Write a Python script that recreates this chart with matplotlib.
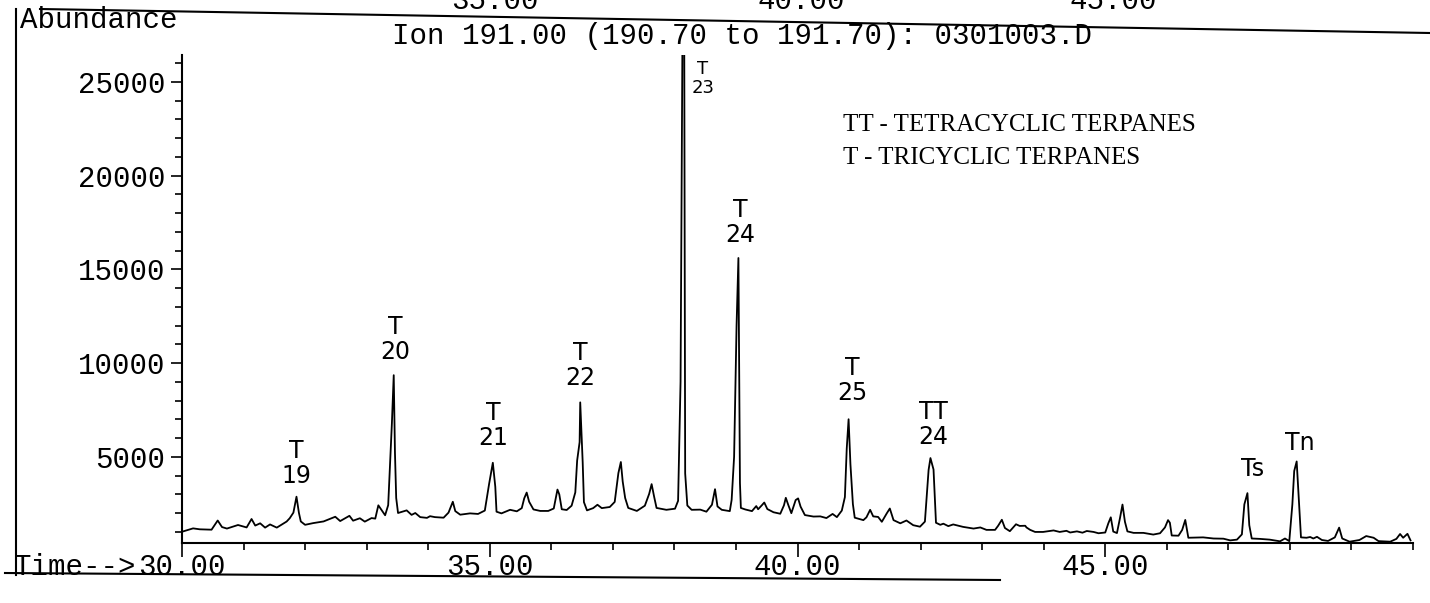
import matplotlib
matplotlib.use("Agg")
import matplotlib.pyplot as plt
from matplotlib.lines import Line2D
from matplotlib.ticker import FixedLocator, MultipleLocator, FormatStrFormatter

# trace: retention time (min) and abundance
time_min = [
    30.00, 30.18, 30.29, 30.48, 30.58, 30.65, 30.73, 30.91, 31.05, 31.13,
    31.19, 31.27, 31.35, 31.43, 31.54, 31.70, 31.75, 31.81, 31.86, 31.90,
    31.93, 32.00, 32.13, 32.30, 32.49, 32.57, 32.72, 32.78, 32.89, 32.97,
    33.08, 33.14, 33.19, 33.30, 33.35, 33.41, 33.44, 33.46, 33.48, 33.51,
    33.65, 33.73, 33.79, 33.87, 33.98,
    34.03, 34.11, 34.25, 34.33, 34.40, 34.44, 34.52, 34.68, 34.81, 34.92,
    34.99, 35.05, 35.09, 35.11, 35.19, 35.33, 35.44, 35.52, 35.56, 35.60,
    35.64, 35.71, 35.82, 35.95, 36.04, 36.10, 36.13, 36.17, 36.25, 36.33,
    36.39, 36.42, 36.46, 36.47, 36.51, 36.53, 36.58, 36.68, 36.75, 36.82,
    36.95, 37.03, 37.09, 37.13, 37.16, 37.20, 37.25, 37.39, 37.52, 37.59,
    37.63, 37.67, 37.71, 37.87, 38.01, 38.06, 38.10, 38.13, 38.16, 38.175,
    38.21, 38.28, 38.42, 38.52, 38.61, 38.66, 38.70, 38.77, 38.90, 38.93,
    38.97, 39.01, 39.04, 39.065, 39.08, 39.15, 39.26, 39.33, 39.36, 39.42,
    39.46, 39.51, 39.61, 39.72, 39.78, 39.81, 39.85, 39.90, 39.97, 40.01,
    40.05, 40.12, 40.26, 40.37, 40.47, 40.57, 40.64, 40.72, 40.77, 40.80,
    40.83, 40.86, 40.90, 40.93, 41.07, 41.12, 41.18, 41.23, 41.31, 41.37,
    41.45, 41.50, 41.56, 41.67, 41.77, 41.88, 41.99, 42.07, 42.13, 42.16,
    42.21, 42.25, 42.32, 42.37, 42.45, 42.53, 42.69, 42.86, 42.97, 43.07,
    43.21, 43.26, 43.32, 43.37, 43.45, 43.55, 43.61, 43.70, 43.72, 43.78,
    43.86, 43.99, 44.16, 44.26, 44.37, 44.43, 44.54, 44.63, 44.70, 44.81,
    44.89, 45.00, 45.05, 45.09, 45.13, 45.19, 45.24, 45.28, 45.32, 45.36,
    45.46, 45.62, 45.78, 45.89, 45.97, 46.02, 46.05, 46.08, 46.19, 46.25,
    46.30, 46.35, 46.49, 46.59, 46.76, 46.92, 47.03, 47.14, 47.22, 47.26,
    47.31, 47.34, 47.38, 47.51, 47.67, 47.84, 47.92, 47.99, 48.04, 48.07,
    48.11, 48.14, 48.18, 48.27, 48.33, 48.38, 48.44, 48.52, 48.62, 48.73,
    48.80, 48.85, 48.97, 49.13, 49.24, 49.36, 49.44, 49.63, 49.73, 49.79,
    49.84, 49.91, 49.96,
]
abundance = [
    1000, 1180, 1130, 1110, 1600, 1250, 1170, 1360, 1230, 1680,
    1330, 1450, 1220, 1390, 1220, 1545, 1720, 2020, 2870, 2000,
    1550, 1370, 1460, 1550, 1800, 1570, 1850, 1590, 1720, 1540,
    1730, 1700, 2410, 1880, 2420, 6780, 9350, 5200, 2800, 2000,
    2140, 1900, 2000, 1780, 1740,
    1830, 1780, 1750, 2020, 2600, 2100, 1910, 1980, 1950, 2130,
    3560, 4680, 3400, 2070, 1980, 2170, 2090, 2260, 2780, 3090,
    2600, 2190, 2110, 2110, 2240, 3250, 2990, 2200, 2160, 2390,
    3100, 4800, 5780, 7900, 4700, 2580, 2140, 2260, 2440, 2260,
    2320, 2590, 4130, 4720, 3680, 2800, 2270, 2110, 2390, 3020,
    3540, 2880, 2270, 2170, 2230, 2650, 9000, 27000, 27000, 4110,
    2400, 2170, 2180, 2070, 2440, 3270, 2350, 2170, 2100, 2700,
    5000, 12000, 15600, 3600, 2270, 2190, 2100, 2370, 2200, 2410,
    2560, 2210, 2040, 1960, 2410, 2810, 2430, 1990, 2690, 2780,
    2340, 1890, 1810, 1820, 1730, 1950, 1780, 2130, 2850, 5440,
    7000, 4600, 2470, 1750, 1620, 1770, 2170, 1820, 1790, 1530,
    1980, 2240, 1620, 1450, 1600, 1350, 1270, 1540, 4300, 4930,
    4320, 1480, 1370, 1430, 1300, 1390, 1260, 1170, 1230, 1100,
    1100, 1320, 1640, 1200, 1030, 1400, 1310, 1320, 1230, 1100,
    990, 990, 1070, 990, 1050, 960, 1020, 950, 1040, 990,
    920, 960, 1450, 1770, 1010, 930, 1740, 2450, 1530, 1020,
    940, 940, 850, 920, 1230, 1620, 1480, 800, 790, 1100,
    1630, 680, 690, 700, 640, 630, 540, 580, 860, 2460,
    3060, 1350, 640, 620, 580, 490, 640, 500, 2460, 4240,
    4750, 3020, 700, 680, 720, 640, 730, 560, 510, 700,
    1220, 640, 470, 560, 770, 680, 500, 470, 620, 880,
    680, 890, 540,
]

peak_labels = ["T\n19", "T\n20", "T\n21", "T\n22", "T\n23", "T\n24", "T\n25", "TT\n24", "Ts", "Tn"]
peak_times = [31.86, 33.44, 35.05, 36.47, 38.14, 39.04, 40.83, 42.16, 47.31, 48.11]

x_major = [30, 35, 40, 45]
top_chart_ticks = ["35.00", "40.00", "45.00"]
legend_lines = ["TT - TETRACYCLIC TERPANES", "T - TRICYCLIC TERPANES"]
title = "Ion 191.00 (190.70 to 191.70): 0301003.D"

W, H = 1430, 603
MONO = "Liberation Mono"
Y_MIN, Y_MAX = 400, 26427

# label placement relative to the peak top, in pixels (dx, dy up)
label_offsets = [(0, 9), (2, 11), (0, 13), (0, 12), (20, -42), (2, 11), (4, 14), (3, 9), (5, 12), (3, 6)]


def fx(x: float) -> float:
    return x / W


def fy(y: float) -> float:
    return 1 - y / H


def peak_top(t: float) -> float:
    near = [a for tm, a in zip(time_min, abundance) if abs(tm - t) <= 0.06]
    return min(max(near), Y_MAX)


fig = plt.figure(figsize=(W / 100, H / 100), dpi=100)
ax = fig.add_axes([fx(182), fy(543), fx(1231), 488 / H])

ax.plot(time_min, abundance, color="black", lw=1.3)
ax.set_xlim(30, 50)
ax.set_ylim(Y_MIN, Y_MAX)

for side in ["top", "right"]:
    ax.spines[side].set_visible(False)
for side in ["left", "bottom"]:
    ax.spines[side].set_linewidth(1.5)

ax.xaxis.set_major_locator(FixedLocator(x_major))
ax.xaxis.set_minor_locator(MultipleLocator(1))
ax.xaxis.set_major_formatter(FormatStrFormatter("%.2f"))
ax.yaxis.set_major_locator(MultipleLocator(5000))
ax.yaxis.set_minor_locator(MultipleLocator(1000))
ax.yaxis.set_major_formatter(FormatStrFormatter("%d"))

ax.tick_params(axis="x", which="major", length=10, width=1.2, pad=-3)
ax.tick_params(axis="x", which="minor", length=5, width=1.2)
ax.tick_params(axis="y", which="major", length=8, width=1.2, pad=4)
ax.tick_params(axis="y", which="minor", length=5, width=1.2)
for lab in ax.get_xticklabels() + ax.get_yticklabels():
    lab.set_fontfamily(MONO)
    lab.set_fontsize(21)

for name, t, (dx, dy) in zip(peak_labels, peak_times, label_offsets):
    size = 13 if name == "T\n23" else 17
    ax.annotate(name, xy=(t, peak_top(t)), xytext=(dx * 0.72, dy * 0.72),
                textcoords="offset points", ha="center", va="bottom",
                fontsize=size, linespacing=1.05, family="DejaVu Sans")

# page furniture from the scanned report
fig.text(fx(742), fy(36), title, family=MONO, fontsize=21, ha="center", va="center")
fig.text(fx(20), fy(20), "Abundance", family=MONO, fontsize=21, ha="left", va="center")
fig.text(fx(136), fy(567), "Time-->", family=MONO, fontsize=21, ha="right", va="center")
for lab, x in zip(top_chart_ticks, [495, 801, 1113]):
    fig.text(fx(x), fy(1), lab, family=MONO, fontsize=21, ha="center", va="center")
fig.text(fx(843), fy(125), legend_lines[0], family="Liberation Serif", fontsize=18, va="center")
fig.text(fx(843), fy(158), legend_lines[1], family="Liberation Serif", fontsize=18, va="center")

fig.add_artist(Line2D([fx(40), fx(1430)], [fy(9), fy(33)], color="black", lw=1.5))
fig.add_artist(Line2D([fx(16), fx(16)], [fy(9), fy(575)], color="black", lw=1.5))
fig.add_artist(Line2D([fx(5), fx(1000)], [fy(573), fy(580)], color="black", lw=1.5))

fig.savefig("out.png", dpi=100)
